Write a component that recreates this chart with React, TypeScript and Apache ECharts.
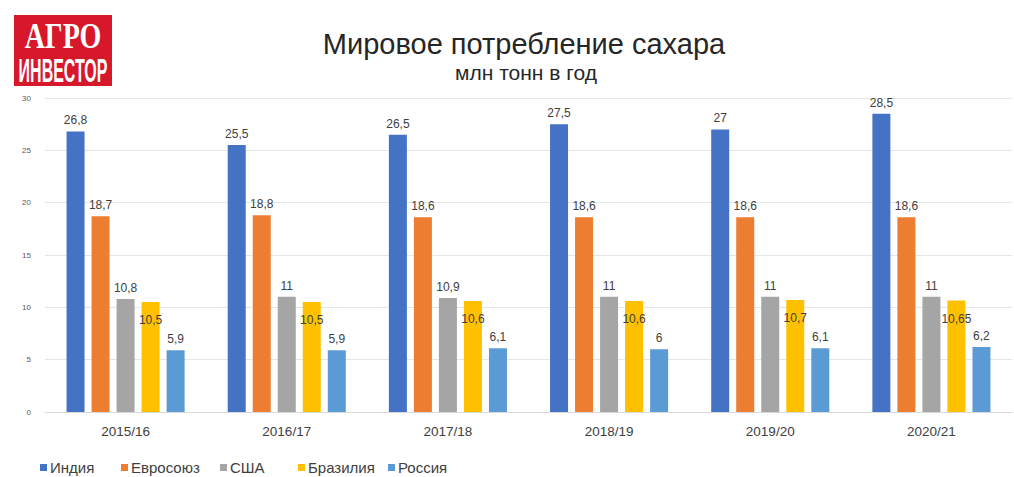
import React, { useEffect, useRef } from "react";
import * as echarts from "echarts";

const categories = ["2015/16", "2016/17", "2017/18", "2018/19", "2019/20", "2020/21"];
const seriesNames = ["Индия", "Евросоюз", "США", "Бразилия", "Россия"];
const india = [26.8, 25.5, 26.5, 27.5, 27, 28.5];
const eu = [18.7, 18.8, 18.6, 18.6, 18.6, 18.6];
const usa = [10.8, 11, 10.9, 11, 11, 11];
const brazil = [10.5, 10.5, 10.6, 10.6, 10.7, 10.65];
const russia = [5.9, 5.9, 6.1, 6, 6.1, 6.2];
const colors = ["#4472C4", "#ED7D31", "#A5A5A5", "#FFC000", "#5B9BD5"];
const legendLefts = [35, 116, 215, 293, 383];

const FONT = "'Liberation Sans', Arial, sans-serif";

export default function App() {
  const ref = useRef<HTMLDivElement>(null);
  useEffect(() => {
    if (!ref.current) return;
    const chart = echarts.init(ref.current, null, { renderer: "svg" });
    const data = [india, eu, usa, brazil, russia];
    const fmt = (p: any) => String(p.value).replace(".", ",");
    chart.setOption({
      animation: false,
      backgroundColor: "#ffffff",
      textStyle: { fontFamily: FONT },
      title: [
        {
          text: "Мировое потребление сахара",
          left: 519,
          top: 24,
          textAlign: "center",
          textStyle: { fontSize: 29, fontWeight: "normal", color: "#262626", fontFamily: FONT },
        },
        {
          text: "млн тонн в год",
          left: 521,
          top: 57,
          textAlign: "center",
          textStyle: { fontSize: 21, fontWeight: "normal", color: "#262626", fontFamily: FONT },
        },
      ],
      legend: seriesNames.map((name, i) => ({
        data: [name],
        left: legendLefts[i],
        top: 455,
        icon: "rect",
        itemWidth: 7,
        itemHeight: 7,
        itemGap: 0,
        textStyle: { fontSize: 15, color: "#404040", fontFamily: FONT, padding: [0, 0, 0, -2] },
      })),
      grid: { left: 45, right: 2, top: 98, bottom: 65, containLabel: false },
      xAxis: {
        type: "category",
        data: categories,
        axisLine: { show: true, lineStyle: { color: "#d9d9d9" } },
        axisTick: { show: false },
        axisLabel: { fontSize: 13.5, color: "#404040", margin: 12, fontFamily: FONT },
      },
      yAxis: {
        type: "value",
        min: 0,
        max: 30,
        interval: 5,
        axisLine: { show: false },
        axisTick: { show: false },
        axisLabel: { fontSize: 8, color: "#595959", margin: 14, fontFamily: FONT },
        splitLine: { lineStyle: { color: "#e6e6e6" } },
      },
      graphic: [
        {
          type: "rect",
          shape: { x: 14, y: 15, width: 98, height: 71 },
          style: { fill: "#D7182A" },
        },
        {
          type: "text",
          x: 63,
          y: 36,
          scaleX: 0.8,
          style: {
            text: "АГРО",
            fill: "#ffffff",
            font: "bold 35px 'Liberation Serif', serif",
            align: "center",
            verticalAlign: "middle",
          },
        },
        {
          type: "text",
          x: 63,
          y: 70,
          scaleX: 0.47,
          style: {
            text: "ИНВЕСТОР",
            fill: "#ffffff",
            font: "bold 34px 'Liberation Sans', sans-serif",
            align: "center",
            verticalAlign: "middle",
          },
        },
      ],
      series: seriesNames.map((name, i) => ({
        name,
        type: "bar",
        data: data[i],
        barWidth: 18,
        barGap: "39%",
        itemStyle: { color: colors[i] },
        label: {
          show: true,
          position: i === 3 ? "insideTop" : "top",
          distance: i === 3 ? 12 : 5,
          fontSize: 12,
          color: "#404040",
          fontFamily: FONT,
          formatter: fmt,
        },
      })),
    });
    return () => chart.dispose();
  }, []);
  return (
    <div
      ref={ref}
      style={{ position: "absolute", left: 0, top: 0, width: 1014, height: 477 }}
    />
  );
}
